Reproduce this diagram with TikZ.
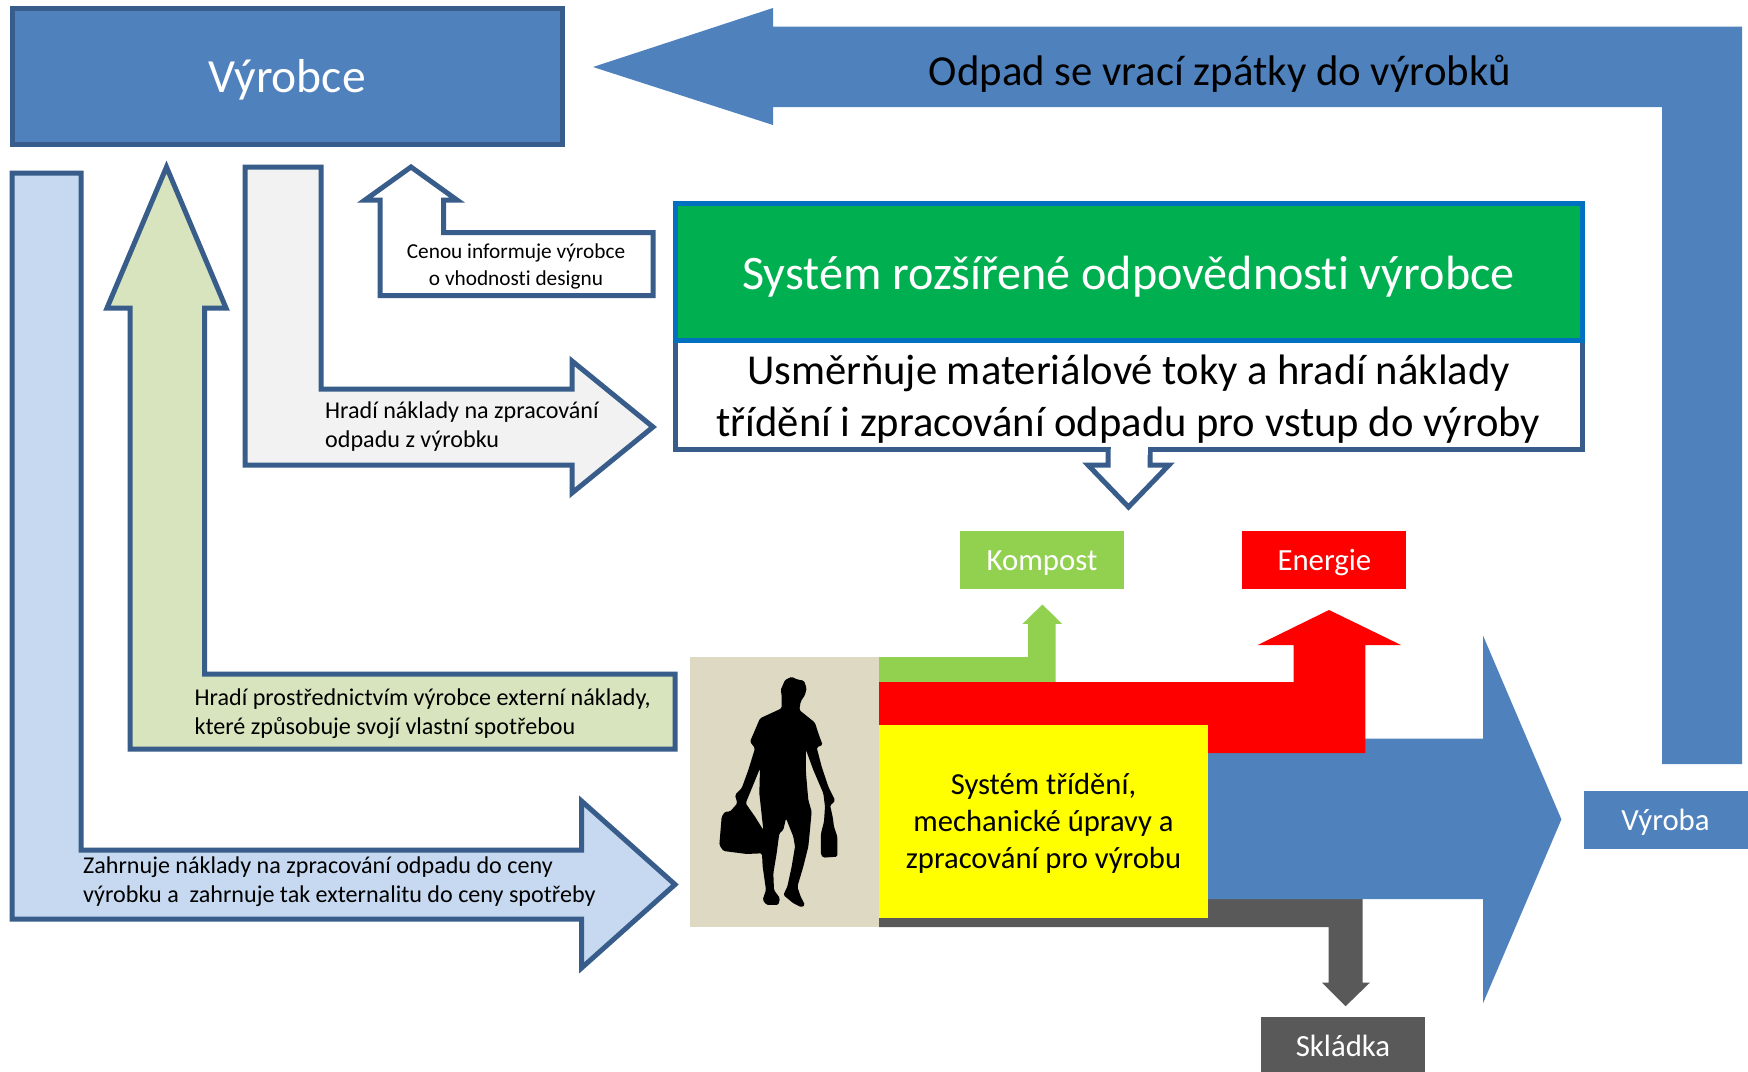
\documentclass[tikz,border=0pt]{standalone}
\usepackage{fontspec}
\setmainfont[Ligatures=NoCommon]{Carlito}
\usetikzlibrary{positioning}
\definecolor{blok}{HTML}{4F81BD}
\definecolor{okraj}{HTML}{385D8A}
\definecolor{svetlemodra}{HTML}{C6D9F1}
\definecolor{svetlezelena}{HTML}{D7E4BD}
\definecolor{seda}{HTML}{F2F2F2}
\definecolor{bezova}{HTML}{DDD9C3}
\definecolor{kompost}{HTML}{92D050}
\definecolor{skladka}{HTML}{595959}
\definecolor{systemzelena}{HTML}{00B050}
\definecolor{systemmodra}{HTML}{0070C0}
\definecolor{zluta}{HTML}{FFFF00}
\definecolor{cervena}{HTML}{FF0000}
\tikzset{
sipka/.style={
  draw=okraj,
  line width=5pt,
  miter limit=10
  },
plna/.style={
  draw=none,
  fill=#1
  },
ramec/.style={
  rectangle,
  inner sep=0pt,
  align=center,
  line width=5pt
  },
stitek/.style={
  rectangle,
  inner sep=0pt,
  align=center,
  minimum width=164pt,
  minimum height=58pt,
  text=white,
  text height=22pt,
  text depth=0pt,
  font=\fontsize{30.8}{35}\selectfont
  },
popis/.style={
  inner sep=0pt,
  align=left,
  anchor=west,
  font=\fontsize{24.1}{28.8}\selectfont
  }
}
\begin{document}
\begin{tikzpicture}[x=1pt,y=-1pt]
            \useasboundingbox (0,0) rectangle (1748,1071);

            \fill[white] (0,0) rectangle (1748,1071);

            \node[ramec,draw=okraj,fill=blok,text=white,minimum width=550pt,minimum height=136pt,text height=33.4pt,text depth=0pt,font=\fontsize{47.6}{56}\selectfont] (vyrobce) at (287,76) {Výrobce};

            \path[plna=blok] (593,67) -- (773,8) -- (773,26.5) -- (1742,26.5) -- (1742,764) -- (1662,764) -- (1662,107) -- (773,107) -- (773,125) -- cycle;
            \node[inner sep=0pt,font=\fontsize{42.8}{49}\selectfont] (odpad) at (1220,73.5) {Odpad se vrací zpátky do výrobků};

            \draw[sipka,fill=svetlemodra] (12,173) -- (81,173) -- (81,850) -- (581.5,850) -- (581.5,801) -- (675,884.5) -- (581.5,968) -- (581.5,919) -- (12,919) -- cycle;
            \node[popis] (zahrnuje) at (83,882) {Zahrnuje náklady na zpracování odpadu do ceny\\výrobku a\ \ zahrnuje tak externalitu do ceny spotřeby};

            \draw[sipka,fill=svetlezelena] (166.5,167) -- (226,308) -- (204.7,308) -- (204.7,674) -- (675,674) -- (675,749) -- (130,749) -- (130,308) -- (107,308) -- cycle;
            \node[popis] (hradi) at (194.5,713.5) {Hradí prostřednictvím výrobce externí náklady,\\které způsobuje svojí vlastní spotřebou};

            \draw[sipka,fill=seda] (245,167) -- (321,167) -- (321,389) -- (572,389) -- (572,361) -- (653,427) -- (572,493) -- (572,465) -- (245,465) -- cycle;
            \node[popis] (naklady) at (325,426.5) {Hradí náklady na zpracování\\odpadu z výrobku};

            \draw[sipka,fill=white] (411,167) -- (457,200) -- (443.5,200) -- (443.5,232.5) -- (653,232.5) -- (653,295.5) -- (380,295.5) -- (380,200) -- (365,200) -- cycle;
            \node[inner sep=0pt,align=center,font=\fontsize{21.3}{26.5}\selectfont] (cenou) at (516,266.5) {Cenou informuje výrobce\\o vhodnosti designu};

            \draw[sipka,fill=white] (675,340.5) rectangle (1582,449);
            \draw[sipka,fill=white] (1108,449) -- (1108,465) -- (1088,465) -- (1128.5,507) -- (1169,465) -- (1150,465) -- (1150,449);
            \path[fill=white] (1110.5,445) rectangle (1147.5,455);
            \node[ramec,draw=systemmodra,fill=systemzelena,text=white,minimum width=907pt,minimum height=136.5pt,text height=33.6pt,text depth=0pt,font=\fontsize{48.1}{56}\selectfont] (system) at (1128.5,272.2) {Systém rozšířené odpovědnosti výrobce};
            \node[inner sep=0pt,align=center,below=12pt of system,font=\fontsize{42.6}{52}\selectfont] (usmernuje) {Usměrňuje materiálové toky a hradí náklady\\třídění i zpracování odpadu pro vstup do výroby};

            \node[stitek,fill=kompost] (komp) at (1042,559.5) {Kompost};
            \node[stitek,fill=cervena,right=118pt of komp] (energie) {Energie};
            \node[stitek,fill=blok,minimum width=164pt] (vyroba) at (1665.5,819.5) {Výroba};
            \node[stitek,fill=skladka,anchor=north] (sklad) at (1343,1016.5) {Skládka};

            \path[plna=skladka] (879,899) -- (1362.6,899) -- (1362.6,982.5) -- (1370,982.5) -- (1345.6,1006.2) -- (1321.8,982.5) -- (1328.6,982.5) -- (1328.6,927) -- (879,927) -- cycle;
            \path[plna=blok] (1100,738.5) -- (1483,738.5) -- (1483,635.5) -- (1561.4,819.4) -- (1483,1003.3) -- (1483,899) -- (1100,899) -- cycle;
            \path[plna=kompost] (879,657) -- (1028,657) -- (1028,623.8) -- (1022.6,623.8) -- (1042.4,604.5) -- (1062,623.8) -- (1055.5,623.8) -- (1055.5,690) -- (879,690) -- cycle;
            \path[plna=cervena] (879,682) -- (1293.5,682) -- (1293.5,645) -- (1257.7,645) -- (1329,610) -- (1401,645) -- (1365.4,645) -- (1365.4,753) -- (879,753) -- cycle;

            \node[rectangle,inner sep=0pt,fill=zluta,minimum width=329pt,minimum height=193pt,text depth=0pt,align=center,font=\fontsize{30.6}{37.3}\selectfont] (trideni) at (1043.5,821) {Systém třídění,\\mechanické úpravy a\\zpracování pro výrobu};
            \node[rectangle,inner sep=0pt,fill=bezova,minimum width=189pt,minimum height=270.7pt] (spotrebitel) at (784.5,792) {};

            \begin{scope}[shift={(680,640)},x=0.3333pt,y=-0.3333pt]
            \fill[black,even odd rule,rounded corners=1.5pt] (315,120) -- (335,110) -- (350,118) -- (372,122) -- (380,145) -- (375,165) -- (362,185) -- (358,210) -- (405,248) -- (415,280) -- (428,315) -- (410,322) -- (425,380) -- (445,440) -- (465,480) -- (460,490) -- (450,495) -- (458,530) -- (462,560) -- (472,590) -- (472,650) -- (430,653) -- (423,645) -- (423,580) -- (432,545) -- (435,500) -- (430,460) -- (400,390) -- (378,330) -- (378,400) -- (385,480) -- (395,515) -- (390,570) -- (385,620) -- (370,680) -- (352,740) -- (362,770) -- (375,795) -- (365,802) -- (340,790) -- (310,765) -- (322,740) -- (335,680) -- (345,620) -- (340,590) -- (318,535) -- (310,570) -- (298,580) -- (290,640) -- (280,700) -- (282,750) -- (300,775) -- (295,795) -- (260,795) -- (248,780) -- (258,750) -- (248,680) -- (246,640) -- (200,642) -- (130,633) -- (118,615) -- (125,530) -- (135,515) -- (150,515) -- (172,490) -- (165,465) -- (185,445) -- (205,390) -- (225,325) -- (210,305) -- (240,235) -- (305,205) -- (305,165) -- (302,150) -- cycle
            (197,490) -- (240,385) -- (238,460) -- (250,570) -- (225,530) -- cycle;
            \end{scope}
        \end{tikzpicture}
\end{document}
